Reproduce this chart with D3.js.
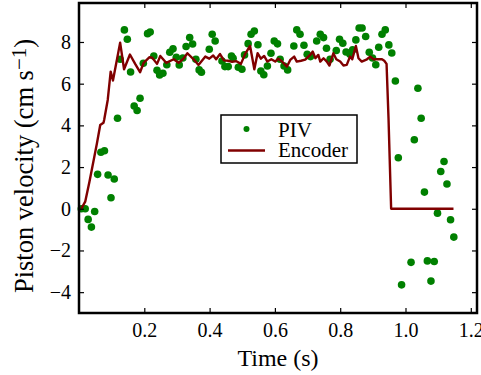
<!DOCTYPE html>
<html>
<head>
<meta charset="utf-8">
<script src="https://cdn.jsdelivr.net/npm/d3@7"></script>
<style>
  html, body { margin: 0; padding: 0; background: #fff; }
  svg { display: block; }
  text { font-family: "Liberation Serif", "DejaVu Serif", serif; fill: #000; }
</style>
</head>
<body>
<svg id="chart" width="481" height="375"></svg>
<script>
// PIV measurements (time in s, velocity in cm/s)
const pivTime = [0.007,0.019,0.028,0.038,0.048,0.057,0.067,0.078,0.089,0.098,0.108,0.118,0.126,0.139,0.148,0.158,0.169,0.178,0.187,0.197,0.210,0.218,0.229,0.239,0.247,0.257,0.269,0.278,0.288,0.298,0.307,0.318,0.328,0.339,0.348,0.358,0.368,0.375,0.399,0.408,0.417,0.438,0.447,0.457,0.467,0.472,0.488,0.499,0.507,0.518,0.527,0.537,0.548,0.557,0.566,0.577,0.588,0.598,0.608,0.616,0.628,0.639,0.658,0.667,0.677,0.689,0.699,0.709,0.728,0.739,0.749,0.758,0.769,0.788,0.798,0.808,0.818,0.830,0.838,0.848,0.858,0.867,0.878,0.889,0.899,0.909,0.918,0.928,0.938,0.949,0.958,0.969,0.978,0.988,1.017,1.027,1.038,1.048,1.058,1.067,1.078,1.088,1.098,1.108,1.118,1.127,1.138,1.148];
const pivVel = [0.00,0.00,-0.51,-0.88,-0.13,1.65,2.71,2.78,1.62,0.53,1.43,4.34,7.17,8.58,8.13,6.56,4.93,4.71,5.30,6.98,8.40,8.48,7.33,6.64,6.42,6.50,6.91,7.51,7.67,7.27,6.90,7.23,7.78,8.21,7.90,7.17,6.66,6.55,7.65,8.37,8.05,7.09,6.82,6.82,7.33,7.22,6.79,6.69,7.38,7.92,8.37,8.53,7.87,6.61,6.43,6.85,7.46,8.05,7.91,7.17,6.85,6.66,7.81,8.58,8.37,7.84,7.41,7.30,8.05,8.37,8.21,7.70,7.17,7.59,8.13,7.94,7.52,7.41,7.62,8.10,8.67,8.67,8.26,7.51,7.23,6.91,7.75,8.37,8.58,7.86,7.47,6.13,2.45,-3.65,-2.57,3.31,5.78,4.34,0.80,-2.50,-3.47,-2.53,-0.21,1.79,2.27,1.19,-0.53,-1.36];

// Encoder trace
const encTime = [0.007,0.019,0.032,0.045,0.055,0.065,0.075,0.077,0.088,0.097,0.104,0.118,0.126,0.138,0.156,0.172,0.187,0.198,0.216,0.224,0.239,0.249,0.267,0.290,0.305,0.320,0.332,0.351,0.366,0.387,0.399,0.411,0.420,0.432,0.444,0.457,0.469,0.482,0.496,0.509,0.524,0.537,0.547,0.557,0.567,0.577,0.589,0.601,0.610,0.622,0.637,0.647,0.659,0.667,0.680,0.693,0.708,0.716,0.724,0.733,0.739,0.749,0.759,0.767,0.779,0.788,0.800,0.810,0.820,0.830,0.837,0.848,0.856,0.866,0.882,0.892,0.902,0.916,0.928,0.935,0.942,0.948,0.956,1.147];
const encVel = [0.00,0.34,1.30,2.34,3.14,4.02,4.13,4.26,5.22,6.58,6.15,7.30,7.97,6.69,7.40,6.95,6.55,7.00,7.27,7.25,6.95,7.33,7.00,7.17,7.00,7.20,7.46,7.17,6.90,7.30,7.20,7.35,7.17,7.42,7.12,7.10,7.05,7.08,6.95,7.43,7.81,6.69,7.46,7.20,7.33,7.06,7.17,7.06,7.20,7.06,6.82,7.14,7.30,7.06,7.10,7.15,7.38,7.54,7.22,7.38,7.06,7.22,7.06,6.87,7.46,7.17,7.06,6.87,6.90,7.30,7.17,7.81,7.22,7.06,7.17,7.30,7.17,7.17,7.17,7.10,6.95,4.34,0.00,0.00];

const xTicks = [0.2,0.4,0.6,0.8,1.0,1.2];
const yTicks = [-4,-2,0,2,4,6,8];
const legendLabels = ["PIV","Encoder"];

const W = 481, H = 375;
const m = {left: 79, right: 4, top: 3, bottom: 62};
const svg = d3.select("#chart");
const x = d3.scaleLinear().domain([0, 1.219]).range([m.left, W - m.right]);
const y = d3.scaleLinear().domain([-5, 9.87]).range([H - m.bottom, m.top]);

const green = "#008000", red = "#800000";

// PIV dots
svg.append("g").selectAll("circle")
  .data(pivTime.map((t,i)=>({t, v: pivVel[i]})))
  .join("circle")
  .attr("cx", d => x(d.t)).attr("cy", d => y(d.v))
  .attr("r", 3.8).attr("fill", green);

// Encoder line
const line = d3.line().x(d => x(d.t)).y(d => y(d.v));
svg.append("path")
  .datum(encTime.map((t,i)=>({t, v: encVel[i]})))
  .attr("d", line)
  .attr("fill","none").attr("stroke", red).attr("stroke-width", 2.4)
  .attr("stroke-linejoin","round");

// Axes (ticks inward)
const fmtX = d3.format(".1f");
const gB = svg.append("g").attr("transform",`translate(0,${H - m.bottom})`)
  .call(d3.axisBottom(x).tickValues(xTicks).tickFormat(fmtX).tickSizeInner(-5).tickSizeOuter(0).tickPadding(10));
const gT = svg.append("g").attr("transform",`translate(0,${m.top})`)
  .call(d3.axisTop(x).tickValues(xTicks).tickFormat("").tickSizeInner(-5).tickSizeOuter(0));
const gL = svg.append("g").attr("transform",`translate(${m.left},0)`)
  .call(d3.axisLeft(y).tickValues(yTicks).tickSizeInner(-5).tickSizeOuter(0).tickPadding(8));
const gR = svg.append("g").attr("transform",`translate(${W - m.right},0)`)
  .call(d3.axisRight(y).tickValues(yTicks).tickFormat("").tickSizeInner(-5).tickSizeOuter(0));
[gB,gT,gL,gR].forEach(g => {
  g.select(".domain").remove();
  g.selectAll(".tick line").attr("stroke","#000").attr("stroke-width",1.2);
  g.selectAll("text").attr("font-family",'"Liberation Serif", serif').attr("font-size",20).attr("fill","#000");
});

// Frame
svg.append("rect")
  .attr("x", m.left).attr("y", m.top)
  .attr("width", W - m.right - m.left).attr("height", H - m.bottom - m.top)
  .attr("fill","none").attr("stroke","#000").attr("stroke-width",2.5);

// Axis labels
svg.append("text").attr("x", (m.left + W - m.right)/2).attr("y", 366)
  .attr("text-anchor","middle").attr("font-size",24).text("Time (s)");
const yl = svg.append("text").attr("transform",`translate(33,${(m.top + H - m.bottom)/2 + 8}) rotate(-90)`)
  .attr("text-anchor","middle").attr("font-size",26.5);
yl.append("tspan").text("Piston velocity (cm s");
yl.append("tspan").attr("font-size",21).attr("dy",-7).text("\u22121");
yl.append("tspan").attr("dy",7).text(")");

// Legend
const lg = svg.append("g");
lg.append("rect").attr("x",221).attr("y",115).attr("width",136).attr("height",48)
  .attr("fill","#fff").attr("stroke","#000").attr("stroke-width",1.5);
lg.append("circle").attr("cx",246.5).attr("cy",129).attr("r",3).attr("fill",green);
lg.append("line").attr("x1",228).attr("x2",265).attr("y1",150.5).attr("y2",150.5)
  .attr("stroke",red).attr("stroke-width",2.4);
lg.selectAll("text.lab").data(legendLabels).join("text").attr("class","lab")
  .attr("x",278).attr("y",(d,i)=>136.5 + i*20).attr("font-size",21).text(d=>d);
</script>
</body>
</html>
